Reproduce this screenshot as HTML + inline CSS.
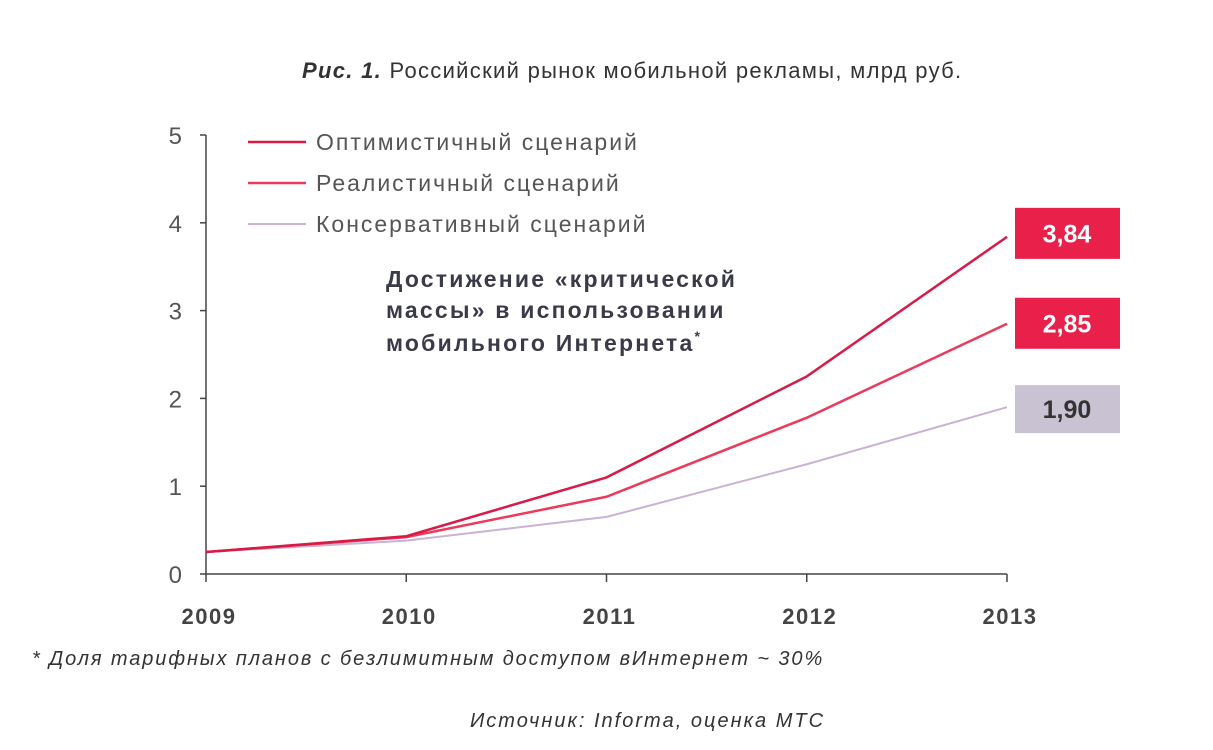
<!DOCTYPE html>
<html><head><meta charset="utf-8">
<style>
body{margin:0;background:#fff;}
svg{display:block;}
</style></head>
<body>
<svg width="1213" height="750" font-family="'Liberation Sans', 'DejaVu Sans', sans-serif">
<text x="302" y="78" font-size="22" letter-spacing="1.3" fill="#333"><tspan font-weight="bold" font-style="italic">Рис. 1.</tspan> Российский рынок мобильной рекламы, млрд руб.</text>
<g id="axes"></g>
<g id="series"></g>
<g letter-spacing="2">
<line x1="248" y1="142" x2="306" y2="142" stroke="#d81a48" stroke-width="2.5"/>
<text x="316" y="150" font-size="23" fill="#555">Оптимистичный сценарий</text>
<line x1="248" y1="183" x2="306" y2="183" stroke="#ec3a5c" stroke-width="2.5"/>
<text x="316" y="191" font-size="23" fill="#555">Реалистичный сценарий</text>
<line x1="248" y1="224" x2="306" y2="224" stroke="#c9b2d6" stroke-width="2"/>
<text x="316" y="232" font-size="23" fill="#555">Консервативный сценарий</text>
</g>
<g font-size="23" font-weight="bold" fill="#3a3a48" letter-spacing="2.2">
<text x="386" y="287">Достижение «критической</text>
<text x="386" y="318">массы» в использовании</text>
<text x="386" y="351">мобильного Интернета<tspan font-size="14" dy="-10">*</tspan></text>
</g>
<g id="labels"></g>
<text x="32" y="665" font-size="20" letter-spacing="1.9" font-style="italic" fill="#333">* Доля тарифных планов с безлимитным доступом вИнтернет ~ 30%</text>
<text x="470" y="727" font-size="20" letter-spacing="2" font-style="italic" fill="#333">Источник: Informa,  оценка МТС</text>
</svg>
<script>
const years = ["2009","2010","2011","2012","2013"];
const yTicks = [0,1,2,3,4,5];
const optimistic = [0.25,0.43,1.1,2.25,3.84];
const realistic = [0.25,0.42,0.88,1.78,2.85];
const conservative = [0.25,0.38,0.65,1.25,1.90];
const finalLabels = ["3,84","2,85","1,90"];

const NS="http://www.w3.org/2000/svg";
const x0=206,xStep=200.25,y0=574,yUnit=87.8;
const X=i=>x0+i*xStep, Y=v=>y0-v*yUnit;
function mk(t,a,p){const e=document.createElementNS(NS,t);for(const k in a)e.setAttribute(k,a[k]);p.appendChild(e);return e;}
const axes=document.getElementById('axes');
let ax=mk('line',{x1:x0,y1:Y(5),x2:x0,y2:y0,stroke:'#444','stroke-width':1.5},axes);


let bx=mk('line',{x1:x0,y1:y0,x2:X(4),y2:y0,stroke:'#444','stroke-width':1.5},axes);


yTicks.forEach(v=>{
 const t=mk('line',{x1:x0-6,y1:Y(v),x2:x0,y2:Y(v),stroke:'#444','stroke-width':1.5},axes);
 
 
 const l=mk('text',{x:182,y:Y(v)+9,'text-anchor':'end','font-size':24,fill:'#555'},axes);
 l.textContent=v;
 
 
});
years.forEach((yr,i)=>{
 const t=mk('line',{x1:X(i),y1:y0,x2:X(i),y2:y0+8,stroke:'#444','stroke-width':1.5},axes);
 
 
 const l=mk('text',{x:X(i)+3,y:624,'text-anchor':'middle','font-size':22,'font-weight':'bold','letter-spacing':1.5,fill:'#444'},axes);
 l.textContent=yr;
 
 
});
const ser=document.getElementById('series');
[[conservative,'#c9b2d6',2,'line-conservative'],[realistic,'#ec3a5c',2.5,'line-realistic'],[optimistic,'#d81a48',2.5,'line-optimistic']].forEach(([d,c,w,n])=>{
 const p=mk('polyline',{points:d.map((v,i)=>X(i)+','+Y(v)).join(' '),fill:'none',stroke:c,'stroke-width':w},ser);
 
 
});
const lab=document.getElementById('labels');
const finals=[optimistic[4],realistic[4],conservative[4]];
const fills=['#e8204a','#e8204a','#c8c2d2'];
const tc=['#fff','#fff','#333'];
const offs=[29,26,22];
const hs=[51,51,48];
finals.forEach((v,i)=>{
 const top=Y(v)-offs[i];
 const r=mk('rect',{x:1015,y:top,width:105,height:hs[i],fill:fills[i]},lab);
 
 
 const t=mk('text',{x:1067,y:top+hs[i]/2+9,'text-anchor':'middle','font-size':25,'font-weight':'bold',fill:tc[i]},lab);
 t.textContent=finalLabels[i];
 
 
});
</script>
</body></html>
